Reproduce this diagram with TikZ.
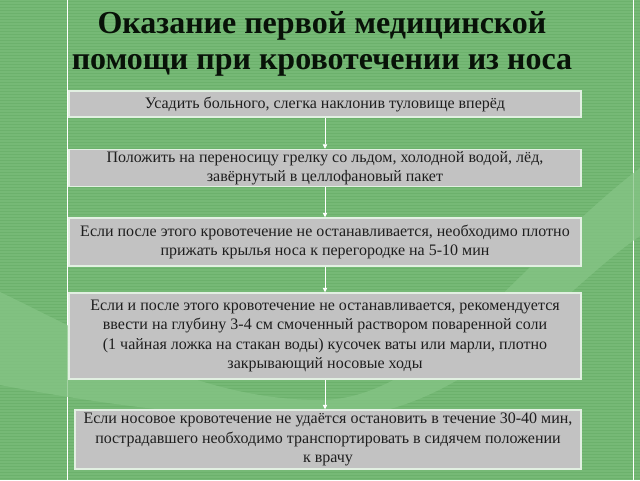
\documentclass[tikz,border=0pt]{standalone}
\usepackage{fontspec}
\setmainfont{Liberation Serif}
\usetikzlibrary{arrows.meta}
\definecolor{bggreen}{RGB}{118,185,118}
\definecolor{stripegreen}{RGB}{108,177,108}
\definecolor{swooshgreen}{RGB}{134,196,134}
\definecolor{boxgray}{RGB}{194,194,194}
\definecolor{boxedge}{RGB}{226,240,226}
\definecolor{boxtext}{RGB}{30,30,30}
\definecolor{titletext}{RGB}{8,18,8}
\begin{document}
\begin{tikzpicture}[x=1pt, y=-1pt,
		actbox/.style={draw=boxedge, line width=1.5pt, fill=boxgray, text=boxtext, align=center,
			minimum width=512pt, inner sep=1pt, font=\fontsize{16}{19.5}\selectfont},
		flow/.style={draw=white, line width=0.8pt, -{Triangle[width=4.5pt,length=4.5pt]}}]
		\useasboundingbox (0,0) rectangle (640,480);
		\fill[bggreen] (0,0) rectangle (640,480);
		\foreach \y in {1.5,4.5,...,480} {
			\draw[stripegreen, line width=1pt] (0,\y) -- (640,\y);
		}
		\draw[white, line width=1pt] (67,0) -- (67,480);
		\draw[white, line width=1pt] (633,0) -- (633,480);
		\fill[swooshgreen, opacity=0.75] (0,292) .. controls (100,340) and (200,400) .. (320,400)
			.. controls (430,400) and (520,260) .. (640,168) -- (640,236)
			.. controls (560,290) and (470,415) .. (330,418)
			.. controls (200,420) and (80,400) .. (0,385) -- cycle;

		\node[font=\fontsize{32}{36}\selectfont\bfseries, text=titletext, align=center] (title) at (322,44)
			{Оказание первой медицинской\\помощи при кровотечении из носа};

		\node[actbox, minimum height=26pt] (sit) at (325,104)
			{Усадить больного, слегка наклонив туловище вперёд};
		\node[actbox, minimum height=37pt] (cold) at (325,168)
			{Положить на переносицу грелку со льдом, холодной водой, лёд,\\завёрнутый в целлофановый пакет};
		\node[actbox, minimum height=48pt] (press) at (325,242)
			{Если после этого кровотечение не останавливается, необходимо плотно\\прижать крылья носа к перегородке на 5-10 мин};
		\node[actbox, minimum height=86pt] (tampon) at (325,336)
			{Если и после этого кровотечение не останавливается, рекомендуется\\ввести на глубину 3-4 см смоченный раствором поваренной соли\\(1 чайная ложка на стакан воды) кусочек ваты или марли, плотно\\закрывающий носовые ходы};
		\node[actbox, minimum width=506pt, minimum height=59pt] (doctor) at (328,439.5)
			{Если носовое кровотечение не удаётся остановить в течение 30-40 мин,\\пострадавшего необходимо транспортировать в сидячем положении\\к врачу};

		\draw[flow] (sit.south) -- (cold.north);
		\draw[flow] (cold.south) -- (press.north);
		\draw[flow] (press.south) -- (tampon.north);
		\draw[flow] (tampon.south) -- (tampon.south |- doctor.north);
	\end{tikzpicture}
\end{document}
